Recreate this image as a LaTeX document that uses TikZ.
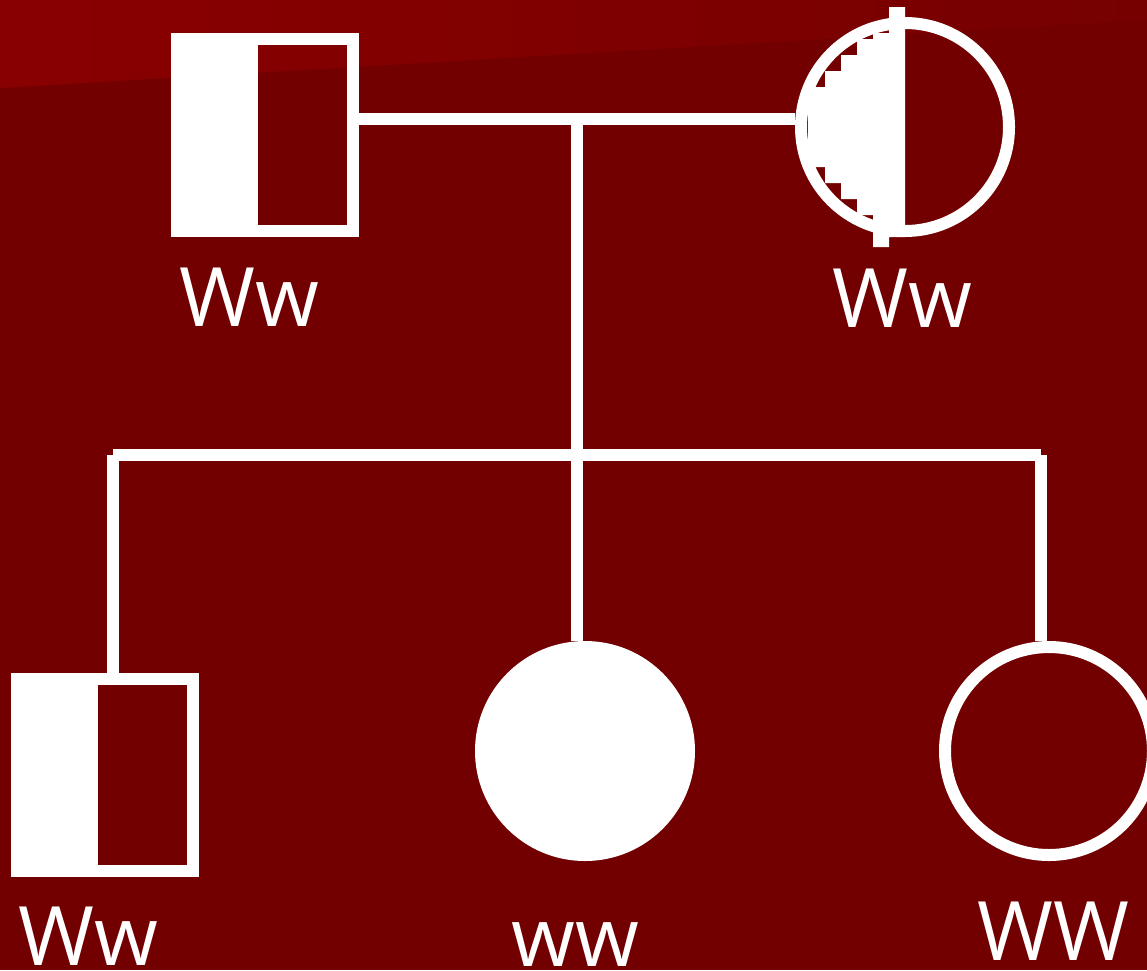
\documentclass[tikz,border=0pt]{standalone}
\usepackage{fontspec}
\setmainfont{Open Sans}
\definecolor{bgred}{HTML}{720000}
\definecolor{topred}{HTML}{890000}
\definecolor{topredR}{HTML}{760000}
\begin{document}
\begin{tikzpicture}[x=1pt,y=-1pt,
  line/.style={draw=white,line width=12pt},
  male/.style={rectangle,draw=white,line width=12pt,minimum width=176pt,minimum height=192pt,inner sep=0pt},
  femopen/.style={circle,draw=white,line width=12pt,minimum size=208pt,inner sep=0pt},
  femfull/.style={circle,fill=white,minimum size=220pt,inner sep=0pt},
  geno/.style={text=white,font=\fontsize{82}{98}\selectfont,anchor=base,inner sep=0pt}]
\useasboundingbox (0,0) rectangle (1147,970);
\clip (0,0) rectangle (1147,970);
\fill[bgred] (0,0) rectangle (1147,970);
\shade[left color=topred,right color=topredR] (0,0) -- (1147,0) -- (1147,20) -- (0,88) -- cycle;
% father
\fill[white] (171,33) rectangle (258,237);
\node[male] (father) at (265,135) {};
% mother
\fill[white] (889,7) -- (905,7) -- (905,237) -- (889,237) -- (889,247) -- (873,247) -- (873,215) -- (857,215) -- (857,199) -- (841,199) -- (841,183) -- (825,183) -- (825,167) -- (808,167) -- (808,87) -- (825,87) -- (825,71) -- (841,71) -- (841,55) -- (857,55) -- (857,39) -- (873,39) -- (873,33) -- (889,33) -- cycle;
\node[femopen] (mother) at (905,127) {};
% children
\fill[white] (11,673) rectangle (98,877);
\node[male] (son) at (105,775) {};
\node[femfull] (dtr) at (585,751) {};
\node[femopen] (dtr2) at (1049,751) {};
% connectors
\coordinate (mate) at (577,119);
\coordinate (sib) at (577,455);
\coordinate (sibL) at (113,455);
\coordinate (sibR) at (1041,455);
\draw[line] (mate -| father.east) -- (mate -| mother.west);
\draw[line] (mate) -- (sib) -- (sib |- dtr.north);
\draw[line] (sibL) -- (sibR);
\draw[line] (sibL) -- (son.north -| sibL);
\draw[line] (sibR) -- (dtr2.north -| sibR);
% labels
\node[geno] (gF) at (249,326) {Ww};
\node[geno] (gM) at (902,327) {Ww};
\node[geno] (gS) at (88,965) {Ww};
\node[geno] (gD) at (575,966) {ww};
\node[geno] (gD2) at (1053,960) {WW};
\end{tikzpicture}
\end{document}
